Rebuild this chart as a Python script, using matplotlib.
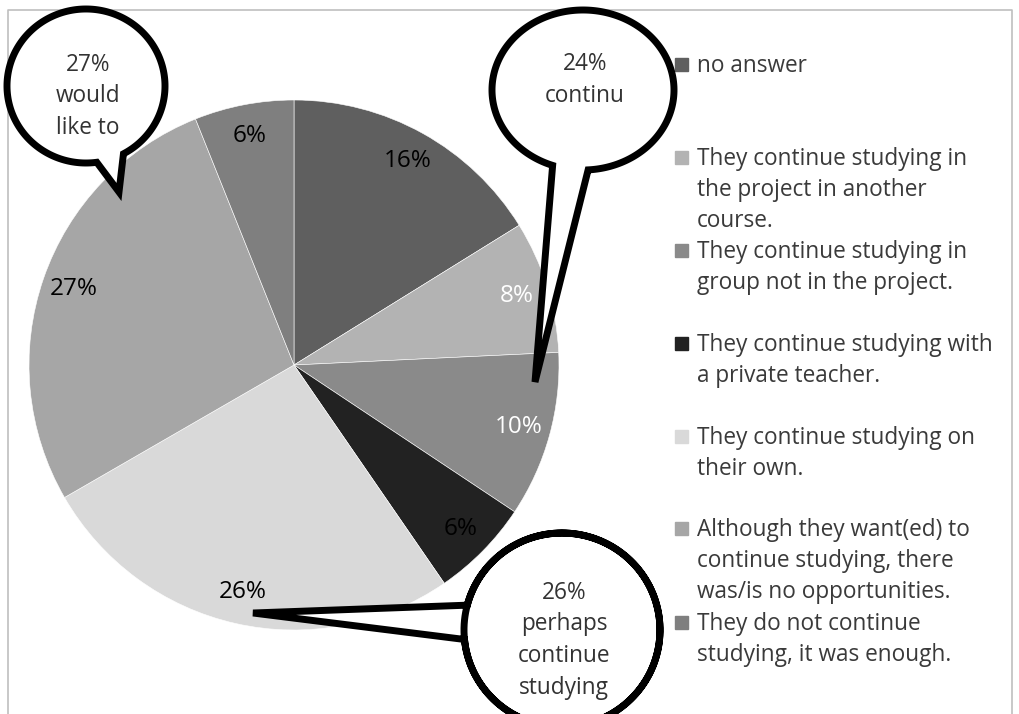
import numpy as np
import matplotlib
matplotlib.use("Agg")
import matplotlib.pyplot as plt
from matplotlib.patches import Rectangle, Polygon

plt.rcParams['font.family'] = ['Open Sans', 'DejaVu Sans']

# data
categories = ['no answer',
              'They continue studying in\nthe project in another\ncourse.',
              'They continue studying in\ngroup not in the project.',
              'They continue studying with\na private teacher.',
              'They continue studying on\ntheir own.',
              'Although they want(ed) to\ncontinue studying, there\nwas/is no opportunities.',
              'They do not continue\nstudying, it was enough.']
values = [16, 8, 10, 6, 26, 27, 6]
colors = ['#5f5f5f', '#b3b3b3', '#8a8a8a', '#222222', '#d9d9d9', '#a6a6a6', '#7f7f7f']
label_colors = ['black', 'white', 'white', 'black', 'black', 'black', 'black']

W, H = 1019, 714
fig = plt.figure(figsize=(W / 100, H / 100), dpi=100)

# pie: center (294, 365) px, radius 265 px
cx, cy, r = 294, 365, 265
ax = fig.add_axes([(cx - r) / W, (H - cy - r) / H, 2 * r / W, 2 * r / H])
wedges, texts, autotexts = ax.pie(values, colors=colors, startangle=90, counterclock=False,
                                  autopct='%1.0f%%', pctdistance=0.88,
                                  wedgeprops=dict(edgecolor='white', linewidth=0.4),
                                  textprops=dict(fontsize=17.5))
for t, c in zip(autotexts, label_colors):
    t.set_color(c)
ax.set_xlim(-1, 1)
ax.set_ylim(-1, 1)
ax.axis('off')

# overlay in pixel coordinates
ov = fig.add_axes([0, 0, 1, 1])
ov.set_xlim(0, W)
ov.set_ylim(H, 0)
ov.axis('off')
ov.patch.set_alpha(0)

# chart frame
ov.plot([8.5, 8.5, 1012.5, 1012.5], [H + 5, 9.5, 9.5, H + 5], color='#bfbfbf', lw=1.2)

# legend
entry_y = [64, 157, 250, 343, 436, 528, 622]
for y, lab, col in zip(entry_y, categories, colors):
    ov.add_patch(Rectangle((675, y - 6.5), 13, 13, color=col))
    for k, line in enumerate(lab.split('\n')):
        ov.text(697, y + 8 + 31 * k, line, fontsize=16.3, color='#3a3a3a',
                va='baseline', ha='left')


def bubble(ecx, ecy, rx, ry, b1, b2, tip, lines, text_y):
    a1 = np.arctan2((b1[1] - ecy) / ry, (b1[0] - ecx) / rx)
    a2 = np.arctan2((b2[1] - ecy) / ry, (b2[0] - ecx) / rx)
    d = (a2 - a1) % (2 * np.pi)
    if d > np.pi:
        a1, a2 = a2, a1
    t = np.linspace(a2, a1 + 2 * np.pi, 300)
    pts = np.column_stack([ecx + rx * np.cos(t), ecy + ry * np.sin(t)])
    pts = np.vstack([pts, [tip]])
    ov.add_patch(Polygon(pts, closed=True, facecolor='white', edgecolor='black',
                         lw=5, joinstyle='miter', zorder=5))
    for k, s in enumerate(lines):
        ov.text(ecx + 2, text_y + 8 + 31.5 * k, s, fontsize=16.3, color='#333333',
                ha='center', va='baseline', zorder=6)


bubble(86, 86, 79, 77, (97, 164), (123, 153), (119, 192),
       ['27%', 'would', 'like to'], 63)
bubble(583, 90, 91, 80, (552, 167), (588, 168), (535, 382),
       ['24%', 'continu'], 62)
bubble(562, 630, 98, 97, (459, 603), (459, 640), (253, 613),
       ['26%', 'perhaps', 'continue', 'studying'], 591)

fig.savefig('out.png', dpi=100)
